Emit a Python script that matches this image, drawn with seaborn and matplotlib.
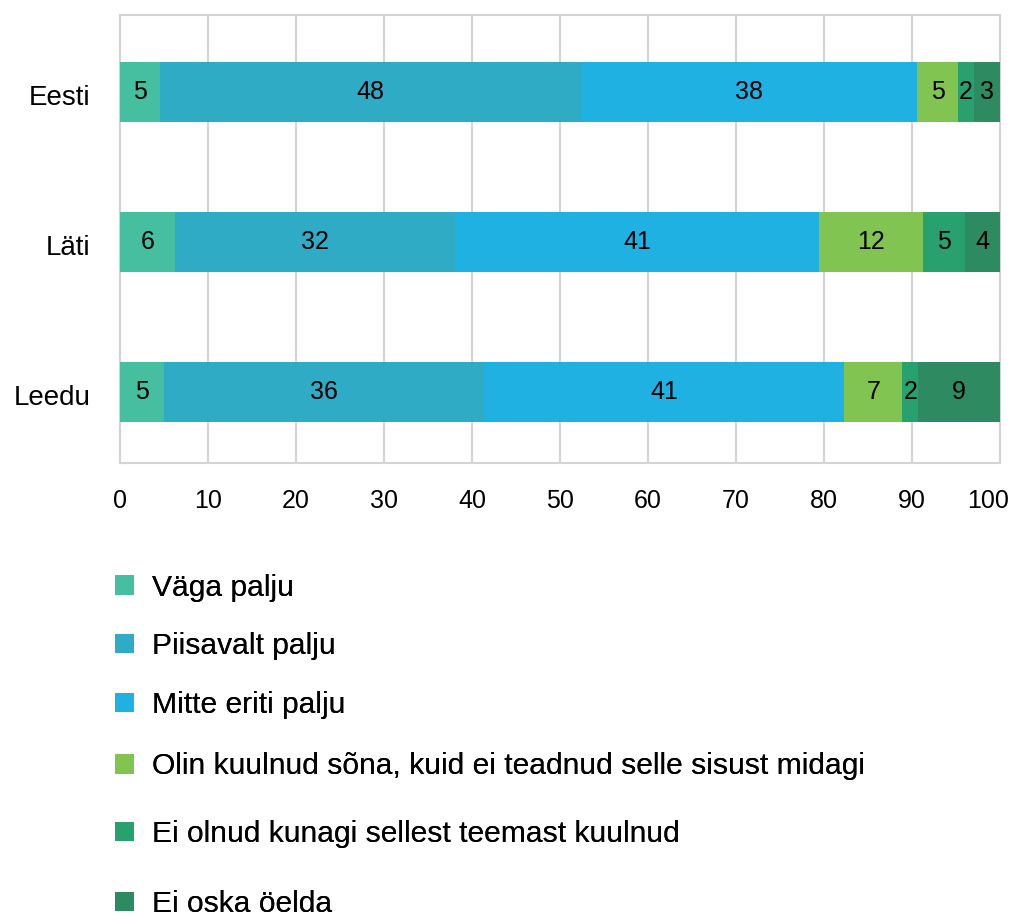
import matplotlib
matplotlib.use("Agg")
import matplotlib.pyplot as plt
import matplotlib.transforms as mtransforms
import seaborn as sns
import pandas as pd
import numpy as np
from matplotlib.patches import Patch

countries = ["Eesti", "Läti", "Leedu"]
categories = [
    "Väga palju",
    "Piisavalt palju",
    "Mitte eriti palju",
    "Olin kuulnud sõna, kuid ei teadnud selle sisust midagi",
    "Ei olnud kunagi sellest teemast kuulnud",
    "Ei oska öelda",
]
vaga_palju = [4.6, 6.2, 5.0]
piisavalt_palju = [47.8, 31.9, 36.4]
mitte_eriti_palju = [38.2, 41.3, 40.9]
olin_kuulnud = [4.6, 11.9, 6.6]
ei_olnud_kunagi = [1.8, 4.7, 1.8]
ei_oska_oelda = [3.0, 4.0, 9.3]
colors = ["#45BF9F", "#30ABC5", "#1EB1E2", "#82C452", "#28A16E", "#2E8A60"]
x_ticks = [0, 10, 20, 30, 40, 50, 60, 70, 80, 90, 100]

series = [vaga_palju, piisavalt_palju, mitte_eriti_palju, olin_kuulnud,
          ei_olnud_kunagi, ei_oska_oelda]

sns.set_theme(style="white")
plt.rcParams['font.family'] = ['Liberation Sans', 'DejaVu Sans']
plt.rcParams['text.color'] = 'black'

W, H = 1013, 916
fig = plt.figure(figsize=(W / 100, H / 100), dpi=100)
ax = fig.add_axes([120 / W, 1 - 463 / H, 880 / W, 448 / H])

vals = np.array(series)  # shape (6, 3)
cum = np.cumsum(vals, axis=0)

# layered cumulative bars, drawn from the largest total to the smallest
for i in range(len(series) - 1, -1, -1):
    df = pd.DataFrame({"country": countries, "value": cum[i]})
    sns.barplot(data=df, x="value", y="country", orient="h", color=colors[i],
                saturation=1, width=0.40, ax=ax, errorbar=None, zorder=3,
                edgecolor="none", linewidth=0)

# value labels
for i in range(len(series)):
    for j in range(len(countries)):
        center = cum[i, j] - vals[i, j] / 2
        ax.text(center, j, f"{vals[i, j]:.0f}", ha="center", va="center",
                fontsize=18, color="black", zorder=5)

ax.set_xlim(0, 100)
ax.set_ylim(2.477, -0.514)
ax.set_xticks(x_ticks)
ax.set_xticklabels([str(t) for t in x_ticks])
ax.set_xlabel("")
ax.set_ylabel("")
ax.tick_params(axis="x", length=0, labelsize=18, colors="black", pad=19)
ax.tick_params(axis="y", length=0, labelsize=20, colors="black", pad=21)
# last x label sits a little left so it stays inside the figure
last = ax.get_xticklabels()[-1]
last.set_transform(last.get_transform() +
                   mtransforms.ScaledTranslation(-12 / 100, 0, fig.dpi_scale_trans))
for lab in ax.get_yticklabels():
    lab.set_transform(lab.get_transform() +
                      mtransforms.ScaledTranslation(0, -3 / 100, fig.dpi_scale_trans))

ax.xaxis.grid(True, color="#D3D3D3", linewidth=1.5, zorder=0, clip_on=False)
ax.yaxis.grid(False)
ax.set_axisbelow(True)
for s in ax.spines.values():
    s.set_visible(True)
    s.set_color("#D3D3D3")
    s.set_linewidth(1.5)
ax.spines["right"].set_visible(False)

# legend rows (one per category), placed below the axes
legend_row_y = [587.5, 646, 705, 766.5, 834, 904]
for c, lab, yc in zip(colors, categories, legend_row_y):
    leg = fig.legend([Patch(facecolor=c, edgecolor="none")], [lab],
                     loc="center left", bbox_to_anchor=(115 / W, 1 - yc / H),
                     frameon=False, fontsize=21.6, handlelength=0.64,
                     handleheight=0.64, handletextpad=0.6, borderpad=0,
                     borderaxespad=0)
    fig.add_artist(leg)

fig.savefig("out.png", dpi=100)
